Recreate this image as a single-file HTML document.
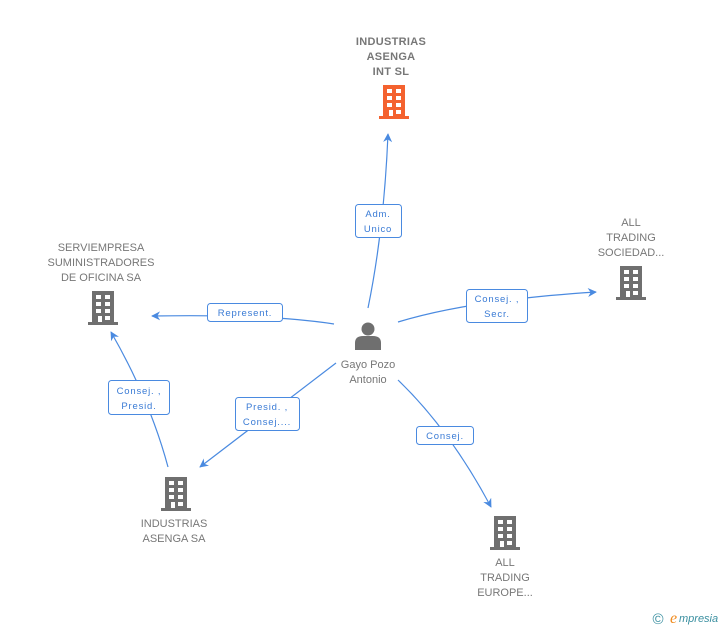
<!DOCTYPE html>
<html><head><style>
body{margin:0;background:#fff;width:728px;height:630px;overflow:hidden}
svg{display:block}
.n{font-family:"Liberation Sans",sans-serif;font-size:11px;fill:#777;text-anchor:middle;letter-spacing:0px}
.b{font-weight:bold;letter-spacing:0.3px}
.l{font-family:"Liberation Sans",sans-serif;font-size:9.5px;fill:#3a7bd5;text-anchor:middle;letter-spacing:0.8px}
.e{stroke:#4a8ae0;stroke-width:1.2;fill:none}
.bx{fill:#fff;stroke:#4a8ae0;stroke-width:1;}
</style></head><body>
<svg width="728" height="630" viewBox="0 0 728 630">
<defs>
<symbol id="bld" viewBox="0 0 32 34">
<path d="M4 0H26V31H4Z M0 31H30V34H0Z"/>
<g fill="#fff">
<rect x="8" y="4" width="5" height="4"/><rect x="17" y="4" width="5" height="4"/>
<rect x="8" y="11" width="5" height="4"/><rect x="17" y="11" width="5" height="4"/>
<rect x="8" y="18" width="5" height="4"/><rect x="17" y="18" width="5" height="4"/>
<rect x="10" y="25" width="4" height="6"/><rect x="17" y="25" width="5" height="4"/>
</g>
</symbol>
<marker id="ar" viewBox="0 0 10 10" refX="9" refY="5" markerWidth="9" markerHeight="9" orient="auto" markerUnits="userSpaceOnUse">
<path d="M0 0L10 5L0 10L3 5Z" fill="#4a8ae0"/></marker>
</defs>

<path class="e" d="M368 308 Q384 230 388 134" marker-end="url(#ar)"/>
<path class="e" d="M398 322 Q470 300 596 292" marker-end="url(#ar)"/>
<path class="e" d="M334 324 Q270 314 152 316" marker-end="url(#ar)"/>
<path class="e" d="M336 363 L200 467" marker-end="url(#ar)"/>
<path class="e" d="M398 380 Q450 430 491 507" marker-end="url(#ar)"/>
<path class="e" d="M168 467 Q150 400 111 332" marker-end="url(#ar)"/>

<rect class="bx" x="355.5" y="204.5" width="46" height="33" rx="3"/>
<text class="l" x="378" y="217">Adm.</text><text class="l" x="378" y="232">Unico</text>
<rect class="bx" x="466.5" y="289.5" width="61" height="33" rx="3"/>
<text class="l" x="497" y="302">Consej. ,</text><text class="l" x="497" y="317">Secr.</text>
<rect class="bx" x="207.5" y="303.5" width="75" height="18" rx="3"/>
<text class="l" x="245" y="316">Represent.</text>
<rect class="bx" x="235.5" y="397.5" width="64" height="33" rx="3"/>
<text class="l" x="267" y="410">Presid. ,</text><text class="l" x="267" y="425">Consej....</text>
<rect class="bx" x="416.5" y="426.5" width="57" height="18" rx="3"/>
<text class="l" x="445" y="439">Consej.</text>
<rect class="bx" x="108.5" y="380.5" width="61" height="34" rx="3"/>
<text class="l" x="139" y="394">Consej. ,</text><text class="l" x="139" y="409">Presid.</text>

<text class="n b" x="391" y="45">INDUSTRIAS</text>
<text class="n b" x="391" y="60">ASENGA</text>
<text class="n b" x="391" y="75">INT  SL</text>
<use href="#bld" x="379" y="85" width="32" height="34" fill="#f4622f"/>

<text class="n" x="631" y="226">ALL</text>
<text class="n" x="631" y="241">TRADING</text>
<text class="n" x="631" y="256">SOCIEDAD...</text>
<use href="#bld" x="616" y="266" width="32" height="34" fill="#6f6f6f"/>

<text class="n" x="101" y="251">SERVIEMPRESA</text>
<text class="n" x="101" y="266">SUMINISTRADORES</text>
<text class="n" x="101" y="281">DE OFICINA SA</text>
<use href="#bld" x="88" y="291" width="32" height="34" fill="#6f6f6f"/>

<text class="n" x="174" y="527">INDUSTRIAS</text>
<text class="n" x="174" y="542">ASENGA SA</text>
<use href="#bld" x="161" y="477" width="32" height="34" fill="#6f6f6f"/>

<use href="#bld" x="490" y="516" width="32" height="34" fill="#6f6f6f"/>
<text class="n" x="505" y="566">ALL</text>
<text class="n" x="505" y="581">TRADING</text>
<text class="n" x="505" y="596">EUROPE...</text>

<circle cx="368" cy="329" r="6.5" fill="#6f6f6f"/>
<path d="M355 350 V343 Q355 336 363 336 H373 Q381 336 381 343 V350 Z" fill="#6f6f6f"/>
<text class="n" x="368" y="368">Gayo Pozo</text>
<text class="n" x="368" y="383">Antonio</text>

<text x="658" y="624" font-family="Liberation Sans,sans-serif" font-size="15" fill="#3a8fa0" text-anchor="middle">©</text>
<text x="670" y="623" font-family="Liberation Serif,serif" font-style="italic" font-size="16" fill="#f08a1c">e</text>
<text x="679" y="622" font-family="Liberation Sans,sans-serif" font-style="italic" font-size="11" fill="#3a8fa0">mpresia</text>
</svg>
</body></html>
